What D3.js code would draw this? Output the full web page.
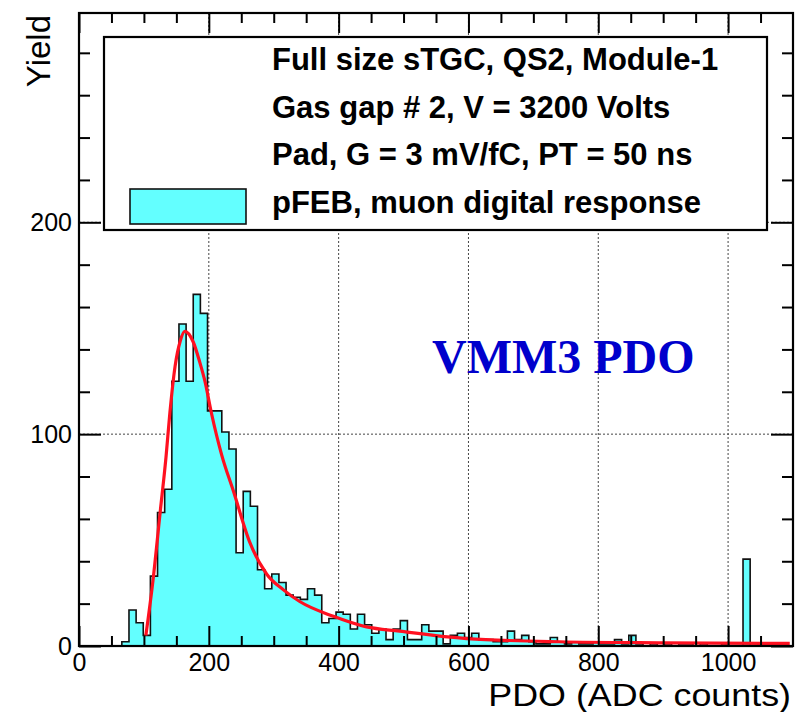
<!DOCTYPE html>
<html>
<head>
<meta charset="utf-8">
<script src="https://cdn.jsdelivr.net/npm/d3@7"></script>
<style>
  body { margin: 0; background: #fff; }
</style>
</head>
<body>
<div id="chart"></div>
<script>
var svgWidth = 797;
var svgHeight = 712;

var chartMargin = {
  top: 13,
  right: 4,
  bottom: 66,
  left: 79
};

var chartWidth = svgWidth - chartMargin.left - chartMargin.right;
var chartHeight = svgHeight - chartMargin.top - chartMargin.bottom;

var sans = "'Liberation Sans', Arial, Helvetica, sans-serif";
var serif = "'Liberation Serif', 'Times New Roman', serif";

// histogram: 100 bins of 11 ADC counts starting at 0
var binStart = 0;
var binWidth = 11;
var counts = [
  0, 0, 0, 0, 0, 0, 2, 17, 11, 5,
  33, 63, 74, 125, 152, 125, 166, 157, 111, 111,
  101, 93, 44, 73, 66, 36, 27, 34, 30, 24,
  23, 22, 27, 24, 11, 13, 16, 15, 8, 15,
  10, 6, 8, 3, 8, 12, 3, 3, 10, 7,
  7, 1, 5, 6, 4, 6, 3, 3, 2, 2,
  7, 3, 5, 2, 1, 1, 4, 2, 1, 2,
  1, 1, 2, 1, 1, 3, 1, 5, 1, 0,
  1, 0, 1, 0, 1, 1, 0, 1, 0, 0,
  1, 0, 0, 41, 0, 0, 0, 0, 0, 0
];

// fit curve
var fitX = [103, 114, 125, 134, 140, 148, 156, 163, 176, 186, 194, 204, 220, 238, 263, 289, 315, 340, 392, 443, 494, 597, 740, 900, 1095];
var fitY = [5, 31, 63, 89, 110, 132, 144, 148.5, 143.5, 134, 125, 110, 90, 73, 49, 34, 26.5, 21, 14, 9, 7, 3.5, 2, 1.5, 1.2];

var xMajor = [0, 200, 400, 600, 800, 1000];
var xMinor = [50, 100, 150, 250, 300, 350, 450, 500, 550, 650, 700, 750, 850, 900, 950, 1050];
var yMajor = [0, 100, 200];
var yMinor = [20, 40, 60, 80, 120, 140, 160, 180, 220, 240, 260, 280];

var legendLines = [
  "Full size sTGC, QS2, Module-1",
  "Gas gap # 2, V = 3200 Volts",
  "Pad, G = 3 mV/fC, PT = 50 ns",
  "pFEB, muon digital response"
];

var svg = d3.select("#chart")
  .append("svg")
  .attr("width", svgWidth)
  .attr("height", svgHeight);

var chartGroup = svg.append("g")
  .attr("transform", `translate(${chartMargin.left}, ${chartMargin.top})`);

var xScale = d3.scaleLinear()
  .domain([0, 1100])
  .range([0, chartWidth]);

var yScale = d3.scaleLinear()
  .domain([0, 298.8])
  .range([chartHeight, 0]);

///////////////////////////////////////////////////////////////////////
// grid

chartGroup.selectAll(".vgrid")
  .data(xMajor.filter(d => d > 0))
  .enter()
  .append("line")
  .attr("class", "vgrid")
  .attr("x1", d => xScale(d))
  .attr("x2", d => xScale(d))
  .attr("y1", 0)
  .attr("y2", chartHeight);

chartGroup.selectAll(".hgrid")
  .data(yMajor.filter(d => d > 0))
  .enter()
  .append("line")
  .attr("class", "hgrid")
  .attr("x1", 0)
  .attr("x2", chartWidth)
  .attr("y1", d => yScale(d))
  .attr("y2", d => yScale(d));

chartGroup.selectAll(".vgrid, .hgrid")
  .attr("stroke", "#444")
  .attr("stroke-width", 1)
  .attr("stroke-dasharray", "2,2");

///////////////////////////////////////////////////////////////////////
// histogram

var stepPoints = [[binStart, 0]];
counts.forEach(function(c, i) {
  var lo = binStart + i * binWidth;
  stepPoints.push([lo, c]);
  stepPoints.push([lo + binWidth, c]);
});
stepPoints.push([binStart + counts.length * binWidth, 0]);

var stepLine = d3.line()
  .x(d => xScale(d[0]))
  .y(d => yScale(d[1]));

chartGroup.append("path")
  .datum(stepPoints)
  .attr("d", stepLine)
  .attr("fill", "#63ffff")
  .attr("stroke", "#111")
  .attr("stroke-width", 1.6)
  .attr("stroke-linejoin", "miter");

// fit
var fitData = fitX.map((x, i) => [x, fitY[i]]);
var fitLine = d3.line()
  .x(d => xScale(d[0]))
  .y(d => yScale(d[1]))
  .curve(d3.curveMonotoneX);

chartGroup.append("path")
  .datum(fitData)
  .attr("d", fitLine)
  .attr("fill", "none")
  .attr("stroke", "#ff1020")
  .attr("stroke-width", 3.2);

///////////////////////////////////////////////////////////////////////
// legend box (drawn over grid)

var legend = svg.append("g");
legend.append("rect")
  .attr("x", 104)
  .attr("y", 37)
  .attr("width", 663)
  .attr("height", 193)
  .attr("fill", "#fff")
  .attr("stroke", "#000")
  .attr("stroke-width", 2.2);

legend.selectAll(".legtext")
  .data(legendLines)
  .enter()
  .append("text")
  .attr("class", "legtext")
  .attr("x", 272)
  .attr("y", (d, i) => 70 + i * 47.7)
  .style("font-family", sans)
  .style("font-size", "31px")
  .style("font-weight", "bold")
  .attr("fill", "#000")
  .text(d => d);

legend.append("rect")
  .attr("x", 130)
  .attr("y", 189)
  .attr("width", 116)
  .attr("height", 35)
  .attr("fill", "#63ffff")
  .attr("stroke", "#111")
  .attr("stroke-width", 1.6);

///////////////////////////////////////////////////////////////////////
// axes (ticks inside, ROOT style)

function styleAxis(g) {
  g.select(".domain").remove();
  g.selectAll(".tick line").attr("stroke", "#000").attr("stroke-width", 2);
  g.selectAll(".tick text").attr("fill", "#000")
    .style("font-size", "25px")
    .style("font-family", sans);
}

var axisLayer = svg.append("g")
  .attr("transform", `translate(${chartMargin.left}, ${chartMargin.top})`);

axisLayer.append("g")
  .attr("transform", `translate(0, ${chartHeight})`)
  .call(d3.axisBottom(xScale).tickValues(xMajor).tickSize(-20).tickPadding(7).tickFormat(d3.format("d")))
  .call(styleAxis);

axisLayer.append("g")
  .attr("transform", `translate(0, ${chartHeight})`)
  .call(d3.axisBottom(xScale).tickValues(xMinor).tickSize(-10).tickFormat(""))
  .call(styleAxis);

axisLayer.append("g")
  .call(d3.axisTop(xScale).tickValues(xMajor).tickSize(-20).tickFormat(""))
  .call(styleAxis);

axisLayer.append("g")
  .call(d3.axisTop(xScale).tickValues(xMinor).tickSize(-10).tickFormat(""))
  .call(styleAxis);

axisLayer.append("g")
  .call(d3.axisLeft(yScale).tickValues(yMajor).tickSize(-22).tickPadding(7).tickFormat(d3.format("d")))
  .call(styleAxis);

axisLayer.append("g")
  .call(d3.axisLeft(yScale).tickValues(yMinor).tickSize(-11).tickFormat(""))
  .call(styleAxis);

axisLayer.append("g")
  .attr("transform", `translate(${chartWidth}, 0)`)
  .call(d3.axisRight(yScale).tickValues(yMajor).tickSize(-22).tickFormat(""))
  .call(styleAxis);

axisLayer.append("g")
  .attr("transform", `translate(${chartWidth}, 0)`)
  .call(d3.axisRight(yScale).tickValues(yMinor).tickSize(-11).tickFormat(""))
  .call(styleAxis);

// frame
axisLayer.append("rect")
  .attr("x", 0)
  .attr("y", 0)
  .attr("width", chartWidth)
  .attr("height", chartHeight)
  .attr("fill", "none")
  .attr("stroke", "#000")
  .attr("stroke-width", 2.2);

///////////////////////////////////////////////////////////////////////
// titles

svg.append("text")
  .attr("transform", "translate(791, 705.5) scale(1.12, 1)")
  .attr("text-anchor", "end")
  .style("font-family", sans)
  .style("font-size", "32px")
  .attr("fill", "#000")
  .text("PDO (ADC counts)");

svg.append("text")
  .attr("transform", "translate(50, 15) rotate(-90)")
  .attr("text-anchor", "end")
  .style("font-family", sans)
  .style("font-size", "33px")
  .attr("fill", "#000")
  .text("Yield");

svg.append("text")
  .attr("x", 432)
  .attr("y", 373)
  .style("font-family", serif)
  .style("font-weight", "bold")
  .style("font-size", "48px")
  .attr("fill", "#0000cc")
  .text("VMM3 PDO");
</script>
</body>
</html>
